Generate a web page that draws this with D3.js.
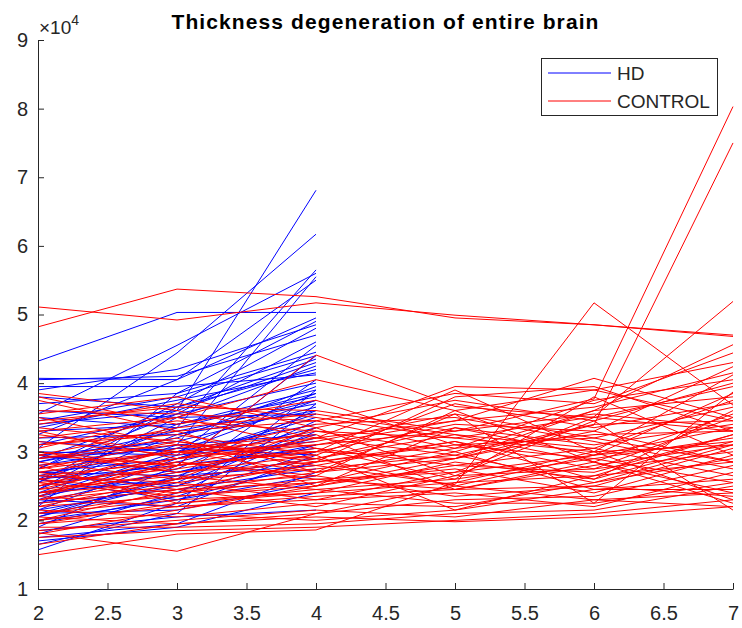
<!DOCTYPE html>
<html>
<head>
<meta charset="utf-8">
<script src="https://cdn.jsdelivr.net/npm/d3@7"></script>
<style>
  body { margin: 0; background: #fff; }
  svg text { font-family: "Liberation Sans", Arial, Helvetica, sans-serif; }
</style>
</head>
<body>
<div id="chart"></div>
<script>
// visits on the x axis, values in units of 1e4 (as the axis shows)
const hdVisits = [2, 3, 4];
const controlVisits = [2, 3, 4, 5, 6, 7];

const xTicks = [2, 2.5, 3, 3.5, 4, 4.5, 5, 5.5, 6, 6.5, 7];
const yTicks = [1, 2, 3, 4, 5, 6, 7, 8, 9];

const seriesNames = ['HD', 'CONTROL'];

// HD subjects, thickness at visits 2,3,4
const hdValues = [
  [2.90, 3.60, 6.81], [3.05, 4.44, 6.17], [4.32, 5.03, 5.03], [2.60, 3.35, 5.65],
  [3.55, 4.55, 5.60], [2.40, 3.10, 5.55], [3.25, 4.05, 5.50], [4.07, 4.05, 4.95],
  [2.20, 3.85, 4.90], [3.90, 4.20, 4.85], [2.75, 3.70, 4.80], [4.05, 4.10, 4.70],
  [2.30, 2.95, 4.55], [3.70, 3.85, 4.45], [1.90, 2.80, 4.40], [3.40, 3.60, 4.30],
  [2.55, 3.65, 4.20], [3.95, 3.95, 4.12], [2.10, 2.60, 4.05], [3.10, 3.55, 4.00],
  [2.85, 3.20, 3.95], [1.57, 2.25, 3.90], [2.65, 3.05, 3.85], [3.30, 3.40, 3.80],
  [2.45, 3.25, 3.75], [1.65, 2.10, 3.70], [2.95, 3.15, 3.65], [2.25, 2.75, 3.60],
  [3.60, 3.50, 3.55], [2.70, 2.90, 3.50], [2.05, 2.55, 3.45], [3.15, 3.00, 3.40],
  [2.50, 2.85, 3.35], [1.80, 2.40, 3.30], [2.80, 3.10, 3.25], [2.35, 2.70, 3.20],
  [3.00, 2.95, 3.15], [2.15, 2.50, 3.10], [2.60, 2.80, 3.05], [1.95, 2.35, 3.00],
  [2.90, 3.05, 2.95], [2.40, 2.60, 2.90], [2.00, 2.30, 2.85], [2.70, 2.65, 2.80],
  [2.25, 2.45, 2.75], [1.75, 1.95, 2.70], [2.55, 3.40, 3.90], [3.35, 3.75, 4.15],
  [2.45, 3.50, 4.25], [2.85, 3.30, 3.70], [2.15, 2.90, 3.55], [3.50, 3.35, 3.85],
  [2.65, 2.50, 3.35], [2.95, 2.70, 3.10], [2.30, 2.20, 2.95], [1.70, 1.90, 2.40],
  [2.10, 2.15, 2.55], [3.80, 3.65, 4.35], [2.75, 3.55, 4.60], [2.35, 3.00, 3.75],
  [3.20, 3.25, 3.60], [2.05, 2.65, 3.25], [2.60, 2.30, 2.65], [1.85, 2.05, 2.15],
  [3.45, 3.80, 4.40]
];

// CONTROL subjects, thickness at visits 2..7
const controlValues = [
  [5.11, 4.92, 5.17, 4.99, 4.85, 4.70], [4.82, 5.37, 5.26, 4.95, 4.85, 4.68],
  [2.70, 3.00, 3.10, 3.30, 3.77, 8.03], [2.50, 2.80, 3.00, 2.90, 3.39, 7.50],
  [2.90, 3.10, 2.80, 2.52, 5.17, 3.68], [2.60, 2.90, 3.30, 3.20, 3.51, 5.19],
  [2.40, 2.79, 4.41, 3.66, 3.50, 3.30], [3.30, 3.50, 4.05, 3.60, 3.90, 4.30],
  [2.80, 3.00, 3.20, 3.45, 4.07, 3.50], [1.82, 1.55, 2.10, 2.50, 2.30, 2.20],
  [1.50, 1.80, 1.86, 2.55, 3.00, 3.10], [3.85, 3.60, 3.20, 3.95, 3.90, 3.45],
  [3.75, 3.30, 2.70, 2.90, 3.60, 4.56], [3.60, 3.55, 3.45, 3.85, 3.70, 4.44],
  [3.50, 3.10, 3.00, 3.40, 3.30, 4.24], [3.40, 3.70, 3.50, 3.20, 3.00, 4.12],
  [3.30, 2.90, 3.15, 3.55, 2.25, 3.87], [3.20, 3.45, 3.30, 3.00, 3.60, 3.80],
  [3.10, 3.25, 2.95, 3.70, 3.35, 3.71], [3.00, 2.70, 2.85, 3.10, 3.20, 3.65],
  [2.95, 3.35, 3.55, 3.25, 2.85, 3.55], [2.85, 2.60, 2.75, 2.95, 3.40, 3.45],
  [2.75, 3.15, 2.90, 3.35, 3.10, 3.40], [2.65, 2.85, 2.60, 2.70, 2.95, 3.35],
  [2.60, 2.40, 2.70, 3.05, 3.25, 3.30], [2.55, 2.75, 3.05, 2.80, 2.70, 3.25],
  [2.45, 2.65, 2.45, 2.60, 2.90, 3.20], [2.40, 2.55, 2.80, 3.15, 2.60, 3.15],
  [2.35, 2.20, 2.35, 2.45, 2.80, 3.10], [2.30, 2.50, 2.65, 2.35, 2.50, 3.05],
  [2.25, 2.45, 2.20, 2.65, 2.75, 3.00], [2.20, 2.35, 2.55, 2.75, 2.40, 2.95],
  [2.15, 2.05, 2.25, 2.20, 2.55, 2.90], [2.10, 2.30, 2.40, 2.55, 2.65, 2.85],
  [2.05, 1.95, 2.10, 2.30, 2.35, 2.80], [2.00, 2.20, 2.30, 2.40, 2.20, 2.70],
  [1.95, 2.10, 2.00, 2.15, 2.45, 2.60], [1.90, 1.90, 1.95, 2.10, 2.15, 2.50],
  [1.85, 2.00, 2.15, 2.05, 2.30, 2.40], [1.75, 1.85, 1.90, 2.00, 2.10, 2.30],
  [1.65, 1.95, 2.05, 1.98, 2.05, 2.20], [3.45, 3.65, 3.60, 3.30, 3.55, 3.35],
  [3.15, 2.95, 3.40, 3.50, 3.15, 2.75], [2.90, 3.20, 2.50, 2.80, 3.05, 2.65],
  [2.70, 2.45, 2.55, 3.00, 2.45, 2.45], [2.50, 3.05, 3.25, 2.45, 2.50, 2.35],
  [2.35, 2.85, 2.65, 3.60, 2.85, 2.25], [2.20, 2.60, 3.35, 2.65, 3.45, 2.15],
  [3.80, 3.40, 3.75, 3.10, 2.90, 2.55], [3.05, 3.50, 3.05, 2.60, 3.80, 2.95],
  [2.80, 2.25, 2.40, 2.85, 2.60, 3.60], [3.55, 3.80, 3.35, 3.75, 3.45, 4.00],
  [2.45, 2.90, 3.10, 3.45, 3.65, 4.15], [3.25, 3.00, 2.90, 2.50, 2.95, 3.85],
  [2.00, 2.45, 2.85, 3.15, 2.75, 3.50], [2.30, 2.60, 2.90, 3.25, 3.05, 3.75],
  [2.55, 2.35, 2.50, 2.90, 3.30, 2.85], [2.95, 2.80, 3.20, 2.95, 2.55, 3.10],
  [2.10, 2.40, 2.60, 2.45, 2.85, 2.40], [3.35, 3.15, 2.85, 3.80, 3.95, 3.30],
  [1.95, 2.25, 2.45, 2.25, 2.25, 2.55], [2.75, 3.00, 2.70, 3.55, 3.20, 2.85],
  [2.40, 2.70, 2.95, 2.15, 2.65, 3.25], [3.10, 3.30, 3.45, 3.05, 3.75, 4.05],
  [2.65, 2.55, 2.30, 2.70, 3.50, 3.95], [1.80, 2.15, 2.50, 3.35, 2.95, 3.15],
  [3.00, 2.80, 3.00, 3.90, 3.00, 2.30]
];

const width = 742;
const height = 628;
const margin = { top: 40, right: 9, bottom: 39, left: 38 };
const axisColor = '#262626';

const svg = d3.select('#chart')
  .append('svg')
  .attr('width', width)
  .attr('height', height);

const x = d3.scaleLinear()
  .domain([2, 7])
  .range([margin.left, width - margin.right]);

const y = d3.scaleLinear()
  .domain([1, 9])
  .range([height - margin.bottom, margin.top]);

const line = d3.line()
  .x(d => x(d[0]))
  .y(d => y(d[1]));

// HD first, then controls on top
svg.append('g')
  .selectAll('path')
  .data(hdValues)
  .enter()
  .append('path')
  .attr('d', v => line(v.map((val, i) => [hdVisits[i], val])))
  .attr('fill', 'none')
  .attr('stroke', '#0000ff')
  .attr('stroke-width', 1);

svg.append('g')
  .selectAll('path')
  .data(controlValues)
  .enter()
  .append('path')
  .attr('d', v => line(v.map((val, i) => [controlVisits[i], val])))
  .attr('fill', 'none')
  .attr('stroke', '#ff0000')
  .attr('stroke-width', 1);

// axes, ticks pointing inward like matlab
const xAxis = svg.append('g')
  .attr('transform', `translate(0,${y(1)})`)
  .call(d3.axisBottom(x).tickValues(xTicks).tickFormat(d3.format('')).tickSizeInner(-6).tickSizeOuter(0));

const yAxis = svg.append('g')
  .attr('transform', `translate(${x(2)},0)`)
  .call(d3.axisLeft(y).tickValues(yTicks).tickFormat(d3.format('d')).tickSizeInner(-6).tickSizeOuter(0).tickPadding(10));

[xAxis, yAxis].forEach(g => {
  g.select('.domain').attr('stroke', axisColor);
  g.selectAll('.tick line').attr('stroke', axisColor);
  g.selectAll('.tick text')
    .attr('fill', axisColor)
    .style('font-size', '20px')
    .style('font-family', '"Liberation Sans", Arial, sans-serif');
});
xAxis.selectAll('.tick text').attr('y', 17).attr('dy', '0.71em');

// exponent label
const expo = svg.append('text')
  .attr('x', x(2) + 1)
  .attr('y', 34)
  .attr('fill', axisColor)
  .style('font-size', '19px');
expo.append('tspan').text('\u00d710');
expo.append('tspan').attr('dy', -9).style('font-size', '14px').text('4');

// title
svg.append('text')
  .attr('x', (x(2) + x(7)) / 2)
  .attr('y', 29)
  .attr('text-anchor', 'middle')
  .attr('fill', '#000')
  .style('font-size', '21px')
  .style('font-weight', 'bold')
  .style('letter-spacing', '1.1px')
  .text('Thickness degeneration of entire brain');

// legend
const legend = svg.append('g');
legend.append('rect')
  .attr('x', 541.5)
  .attr('y', 58.5)
  .attr('width', 176)
  .attr('height', 57)
  .attr('fill', '#fff')
  .attr('stroke', axisColor)
  .attr('stroke-width', 1);

const legendColors = ['#0000ff', '#ff0000'];
seriesNames.forEach((name, i) => {
  const ly = 73 + i * 28;
  legend.append('line')
    .attr('x1', 548).attr('x2', 611)
    .attr('y1', ly).attr('y2', ly)
    .attr('stroke', legendColors[i])
    .attr('stroke-width', 1);
  legend.append('text')
    .attr('x', 617)
    .attr('y', ly + 7)
    .attr('fill', axisColor)
    .style('font-size', '19px')
    .text(name);
});
</script>
</body>
</html>
